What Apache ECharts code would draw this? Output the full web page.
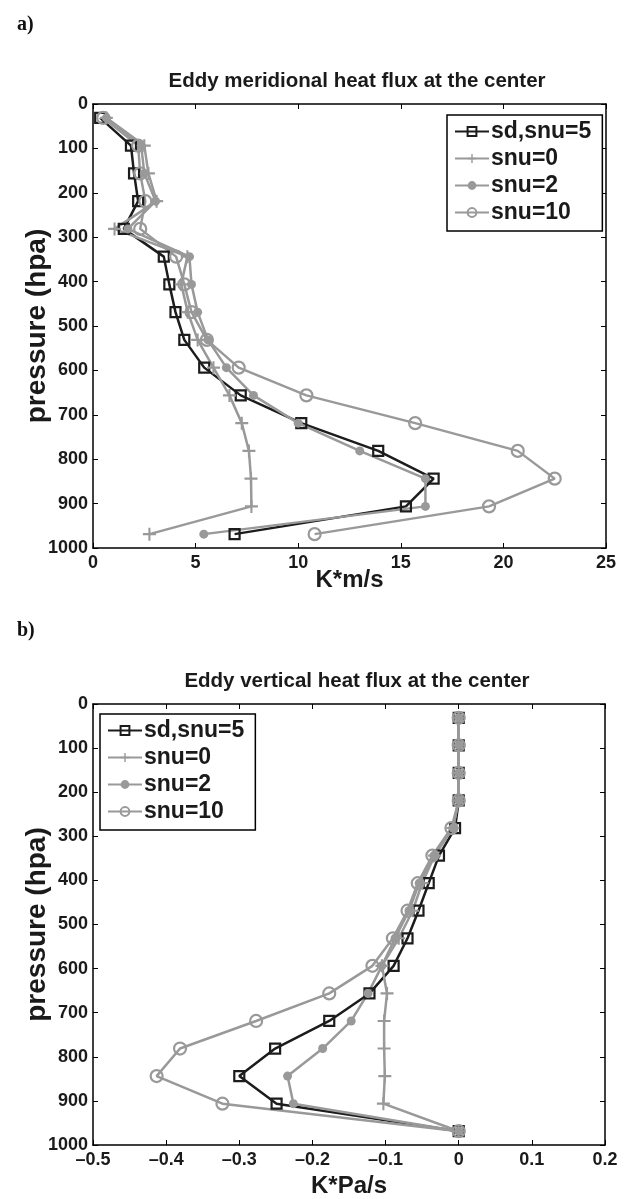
<!DOCTYPE html>
<html><head><meta charset="utf-8">
<script src="https://cdn.jsdelivr.net/npm/echarts@6/dist/echarts.min.js"></script>
<style>html,body{margin:0;padding:0;background:#fff}#c{width:632px;height:1199px}</style>
</head><body><div id="c"></div><script>
// pressure levels (hPa)
const pressure = [31.25, 93.75, 156.25, 218.75, 281.25, 343.75, 406.25, 468.75, 531.25, 593.75, 656.25, 718.75, 781.25, 843.75, 906.25, 968.75];
const seriesNames = ['sd,snu=5', 'snu=0', 'snu=2', 'snu=10'];
// a) Eddy meridional heat flux (K*m/s)
const merid_sd5  = [0.35, 1.85, 2.0, 2.2, 1.5, 3.45, 3.72, 4.02, 4.45, 5.42, 7.2, 10.15, 13.9, 16.6, 15.25, 6.9];
const merid_snu0 = [0.65, 2.5, 2.7, 3.1, 1.05, 4.6, 4.3, 4.62, 5.1, 5.87, 6.65, 7.25, 7.6, 7.7, 7.72, 2.75];
const merid_snu2 = [0.65, 2.35, 2.5, 3.05, 1.7, 4.7, 4.8, 5.1, 5.6, 6.5, 7.82, 10.0, 13.0, 16.2, 16.2, 5.4];
const merid_snu10 = [0.5, 2.2, 2.3, 2.55, 2.3, 4.05, 4.45, 4.8, 5.55, 7.1, 10.4, 15.7, 20.7, 22.5, 19.3, 10.8];
// b) Eddy vertical heat flux (K*Pa/s)
const vert_sd5  = [0, 0, 0, 0, -0.005, -0.027, -0.041, -0.055, -0.07, -0.089, -0.122, -0.177, -0.251, -0.300, -0.249, 0];
const vert_snu0 = [0, 0, 0, 0, -0.008, -0.033, -0.05, -0.063, -0.082, -0.105, -0.098, -0.102, -0.102, -0.101, -0.103, 0];
const vert_snu2 = [0, 0, 0, 0, -0.008, -0.034, -0.054, -0.068, -0.087, -0.105, -0.124, -0.147, -0.186, -0.234, -0.226, 0];
const vert_snu10 = [0, 0, 0, 0, -0.01, -0.036, -0.056, -0.07, -0.09, -0.118, -0.177, -0.277, -0.381, -0.413, -0.323, 0];
const yTicks = [0, 100, 200, 300, 400, 500, 600, 700, 800, 900, 1000];

const BLACK = '#1c1c1c', GRAY = '#999999';
const FONT = '"Liberation Sans", Arial, sans-serif';
const plusPath = 'path://M4.2,0H5.8V4.2H10V5.8H5.8V10H4.2V5.8H0V4.2H4.2Z';

function pairs(xs) { return xs.map((x, i) => [x, pressure[i]]); }

const styles = [
  { symbol: 'rect', symbolSize: 10, color: BLACK, fill: 'rgba(255,255,255,0)', bw: 2.2 },
  { symbol: plusPath, symbolSize: 13, color: GRAY, fill: GRAY, bw: 0 },
  { symbol: 'circle', symbolSize: 9, color: GRAY, fill: GRAY, bw: 0 },
  { symbol: 'circle', symbolSize: 12, color: GRAY, fill: 'rgba(255,255,255,0)', bw: 2.2 }
];

function mkSeries(dataArrs, gi) {
  return dataArrs.map((arr, k) => ({
    name: seriesNames[k], type: 'line', xAxisIndex: gi * 2, yAxisIndex: gi * 2,
    data: pairs(arr), symbol: styles[k].symbol, symbolSize: styles[k].symbolSize,
    showAllSymbol: true, animation: false,
    lineStyle: { color: styles[k].color, width: 2.5 },
    itemStyle: { color: styles[k].fill, borderColor: styles[k].color, borderWidth: styles[k].bw },
    emphasis: { disabled: true }
  }));
}

const axisLine = { show: true, onZero: false, lineStyle: { color: '#000', width: 1.5 } };
const tickIn = { show: true, inside: true, length: 5, lineStyle: { color: '#000', width: 1 } };
const labelStyle = { color: '#1a1a1a', fontFamily: FONT, fontWeight: 'bold', fontSize: 18 };
const nameStyle = { color: '#1a1a1a', fontFamily: FONT, fontWeight: 'bold', fontSize: 24 };

function xAxes(gi, min, max, interval, name, gap, fmt) {
  return [
    { type: 'value', gridIndex: gi, min, max, interval, position: 'bottom',
      axisLine, axisTick: tickIn, splitLine: { show: false },
      axisLabel: Object.assign({ margin: 6, formatter: fmt }, labelStyle),
      name, nameLocation: 'middle', nameGap: gap, nameMoveOverlap: false, nameTextStyle: nameStyle },
    { type: 'value', gridIndex: gi, min, max, interval, position: 'top',
      axisLine, axisTick: tickIn, splitLine: { show: false }, axisLabel: { show: false } }
  ];
}
function yAxes(gi) {
  return [
    { type: 'value', gridIndex: gi, min: 0, max: 1000, interval: 100, inverse: true, position: 'left',
      axisLine, axisTick: tickIn, splitLine: { show: false },
      axisLabel: Object.assign({ margin: 5, formatter: v => yTicks.includes(v) ? String(v) : '' }, labelStyle),
      name: 'pressure (hpa)', nameLocation: 'middle', nameGap: 42, nameRotate: 90, nameMoveOverlap: false,
      nameTextStyle: Object.assign({}, nameStyle, { fontSize: 28 }) },
    { type: 'value', gridIndex: gi, min: 0, max: 1000, interval: 100, inverse: true, position: 'right',
      axisLine, axisTick: tickIn, splitLine: { show: false }, axisLabel: { show: false } }
  ];
}

const fmtB = v => {
  const r = Math.round(v * 10) / 10;
  if (r === 0) return '0';
  return r < 0 ? '\u2013' + Math.abs(r) : String(r);
};

const legendCommon = {
  orient: 'vertical', data: seriesNames, itemWidth: 34, itemHeight: 11, itemGap: 4,
  backgroundColor: '#fff', borderColor: '#000', borderWidth: 1.5, borderRadius: 0, padding: [5, 11, 7, 7],
  textStyle: { color: '#1a1a1a', fontFamily: FONT, fontWeight: 'bold', fontSize: 23, padding: [0, 0, 0, -3] },
  selectedMode: false
};

const option = {
  backgroundColor: '#fff',
  animation: false,
  title: [
    { text: 'a)', left: 12, top: 10, textStyle: { fontFamily: '"Liberation Serif", "DejaVu Serif", serif', fontWeight: 'bold', fontSize: 20, color: '#111' } },
    { text: 'Eddy meridional heat flux at the center', left: 352, top: 66, textAlign: 'center', textStyle: { fontFamily: FONT, fontWeight: 'bold', fontSize: 20.5, color: '#1a1a1a' } },
    { text: 'b)', left: 12, top: 616, textStyle: { fontFamily: '"Liberation Serif", "DejaVu Serif", serif', fontWeight: 'bold', fontSize: 20, color: '#111' } },
    { text: 'Eddy vertical heat flux at the center', left: 352, top: 666, textAlign: 'center', textStyle: { fontFamily: FONT, fontWeight: 'bold', fontSize: 20.5, color: '#1a1a1a' } }
  ],
  legend: [
    Object.assign({ left: 447, top: 115 }, legendCommon),
    Object.assign({ left: 100, top: 714 }, legendCommon)
  ],
  grid: [
    { left: 93, top: 104, width: 513, height: 444 },
    { left: 93, top: 704, width: 512, height: 444 }
  ],
  xAxis: [].concat(xAxes(0, 0, 25, 5, 'K*m/s', 20, undefined), xAxes(1, -0.5, 0.2, 0.1, 'K*Pa/s', 29, fmtB)),
  yAxis: [].concat(yAxes(0), yAxes(1)),
  series: [].concat(
    mkSeries([merid_sd5, merid_snu0, merid_snu2, merid_snu10], 0),
    mkSeries([vert_sd5, vert_snu0, vert_snu2, vert_snu10], 1)
  )
};
const chart = echarts.init(document.getElementById('c'), null, { renderer: 'canvas' });
chart.setOption(option);
</script></body></html>
